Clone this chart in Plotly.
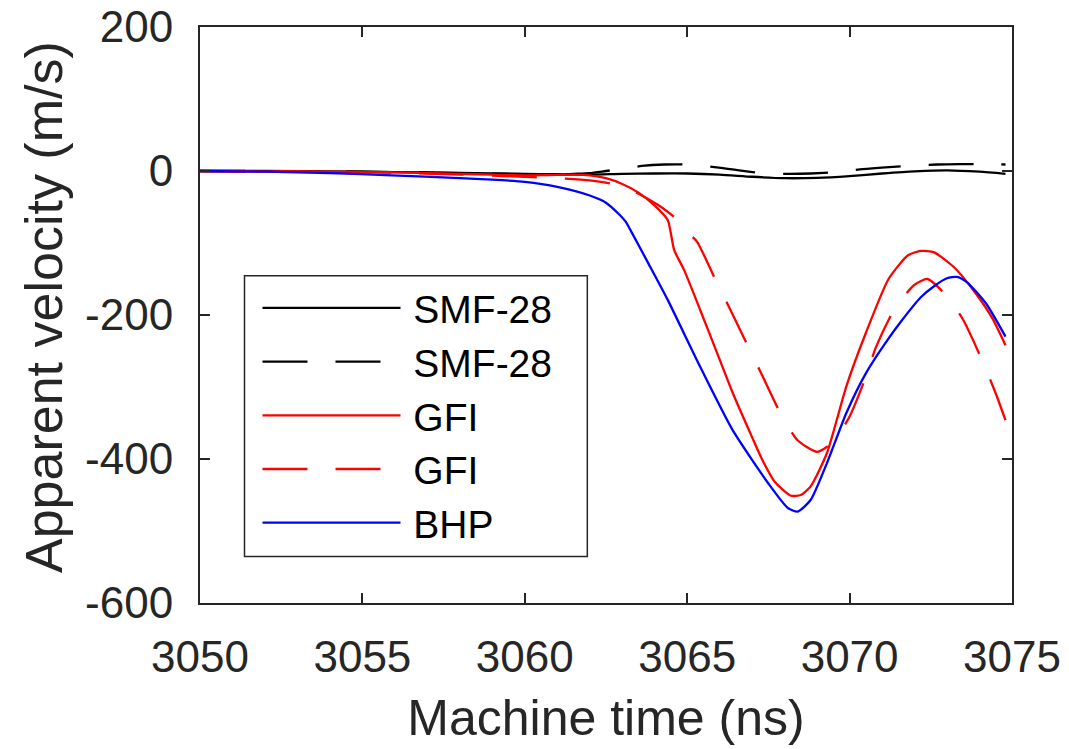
import plotly.graph_objects as go

# ---- data ----
t_smf = [3050, 3052, 3054, 3056, 3058, 3060, 3061, 3062, 3063, 3064, 3065, 3066, 3067,
         3068, 3069, 3070, 3071, 3072, 3073, 3074, 3074.8]
v_smf = [0, 0, -0.5, -1.5, -2.5, -4, -4.5, -5, -4, -3.5, -3.5, -5, -8,
         -10, -9.5, -7, -3.5, -0.5, 1, -1, -4]

t_smf_d = [3050, 3052, 3054, 3056, 3058, 3060, 3061, 3061.5, 3062, 3062.5, 3063, 3063.6,
           3064.3, 3065.0, 3065.9, 3066.6, 3067.3, 3068.0, 3068.8, 3069.6, 3070.4, 3071.1,
           3071.8, 3072.7, 3073.4, 3074.1, 3074.8]
v_smf_d = [0, 0, -0.5, -1.5, -3, -4.5, -5, -4, -3, 0, 3, 7,
           9, 9, 5, 1, -3, -4, -3.5, -1.5, 2.5, 5,
           7, 9, 9.5, 9.5, 9]

t_gfi = [3050, 3052, 3054, 3056, 3058, 3059, 3060, 3061, 3061.5, 3062, 3062.5, 3063,
         3063.5, 3064, 3064.4, 3064.6, 3064.9, 3065.4, 3066, 3066.4, 3067, 3067.3, 3067.7,
         3068.2, 3068.5, 3068.8, 3069.3, 3069.9, 3070.5, 3071.2, 3071.8, 3072.2, 3072.6,
         3073.2, 3073.8, 3074.4, 3074.8]
v_gfi = [0, -0.5, -1, -2, -4, -5, -6, -5.5, -5, -6, -10, -18,
         -30, -48, -68, -110, -137, -193, -262, -308, -370, -400, -432,
         -451, -450, -438, -392, -299, -225, -150, -117, -111, -113,
         -133, -165, -205, -242]

t_gfi_d = [3050, 3052, 3054, 3056, 3058, 3060, 3061, 3062, 3062.7, 3063.2, 3063.6, 3064.2,
           3064.7, 3065.0, 3065.3, 3065.9, 3066.3, 3066.9, 3067.3, 3067.9, 3068.4, 3069.0,
           3069.5, 3070.0, 3070.5, 3070.8, 3071.4, 3072.0, 3072.4, 3073.0, 3073.5, 3074.1,
           3074.5, 3074.8]
v_gfi_d = [0, -0.5, -1, -2.5, -5, -8, -10, -13, -18, -25, -34, -50,
           -68, -85, -98, -154, -190, -246, -283, -339, -374, -390,
           -376, -341, -286, -246, -190, -158, -150, -174, -207, -265,
           -309, -346]

t_bhp = [3050, 3052, 3054, 3055.9, 3058, 3059, 3060, 3061, 3062, 3062.5, 3062.9, 3063.1,
         3063.3, 3063.8, 3064.4, 3065.4, 3066.4, 3067.5, 3068.1, 3068.4, 3068.8, 3069.3,
         3069.9, 3070.5, 3071.1, 3071.6, 3072.2, 3072.6, 3073.0, 3073.3, 3073.6, 3074.2, 3074.8]
v_bhp = [0, -1, -3, -6, -10, -12, -15, -22, -34, -44, -60, -70,
         -86, -128, -179, -272, -360, -434, -468, -473, -457, -406,
         -336, -281, -239, -208, -175, -160, -149, -147, -154, -184, -230]

x_ticks = [3050, 3055, 3060, 3065, 3070, 3075]
x_tick_text = ["3050", "3055", "3060", "3065", "3070", "3075"]
y_ticks = [-600, -400, -200, 0, 200]
y_tick_text = ["-600", "-400", "-200", "0", "200"]

FONT = "Liberation Sans, Arial, Helvetica, sans-serif"
AX = "#262626"

fig = go.Figure()
series = [
    ("SMF-28", t_smf, v_smf, "black", "solid"),
    ("SMF-28", t_smf_d, v_smf_d, "black", "45px,28px"),
    ("GFI", t_gfi, v_gfi, "#ff0000", "solid"),
    ("GFI", t_gfi_d, v_gfi_d, "#ff0000", "45px,28px"),
    ("BHP", t_bhp, v_bhp, "#0000ff", "solid"),
]
for name, x, y, c, d in series:
    fig.add_trace(go.Scatter(x=x, y=y, mode="lines", name="\u2009" + name,
                             line=dict(color=c, width=2.3, dash=d, shape="spline", smoothing=0.6)))

axis_common = dict(showline=True, mirror="ticks", linecolor=AX, linewidth=2,
                   ticks="inside", ticklen=10, tickwidth=2, tickcolor=AX,
                   showgrid=False, zeroline=False,
                   tickfont=dict(family=FONT, size=44, color=AX))

# legend frame (plot-area fractions)
fig.add_shape(type="rect", xref="paper", yref="paper", layer="above",
              x0=0.0548, x1=0.4770, y0=0.0809, y1=0.5682,
              line=dict(color=AX, width=1.5), fillcolor="white")

# y-axis title
fig.add_annotation(text="Apparent velocity (m/s)", xref="paper", yref="paper",
                   x=-0.1928, y=0.5147, xanchor="center", yanchor="middle",
                   textangle=-90, showarrow=False,
                   font=dict(family=FONT, size=52, color=AX))

fig.update_layout(
    width=1069, height=749,
    margin=dict(l=199.5, r=57.3, t=26.7, b=145.7, autoexpand=False),
    paper_bgcolor="white", plot_bgcolor="white",
    font=dict(family=FONT, color=AX),
    xaxis=dict(range=[3050, 3075], tickvals=x_ticks, ticktext=x_tick_text, ticklabelstandoff=14,
               title=dict(text="Machine time (ns)", font=dict(family=FONT, size=50, color=AX), standoff=20),
               **axis_common),
    yaxis=dict(range=[-600, 200], tickvals=y_ticks, ticktext=y_tick_text, ticklabelstandoff=16,
               **axis_common),
    legend=dict(x=0.0548, y=0.5676, xanchor="left", yanchor="top",
                bgcolor="rgba(0,0,0,0)", borderwidth=0, indentation=13,
                font=dict(family=FONT, size=39, color="black"),
                itemwidth=138, tracegroupgap=0),
    showlegend=True,
)

fig.write_html("out.html", config={"displayModeBar": False},
               post_script="document.body.style.margin='0';document.body.style.overflow='hidden';")
